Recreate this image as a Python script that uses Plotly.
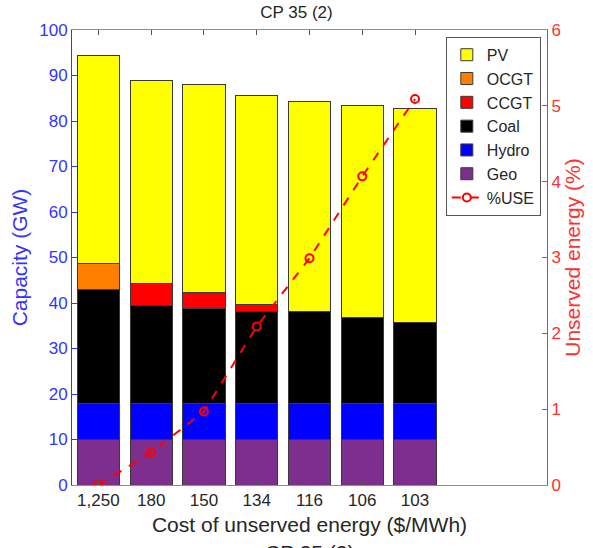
import plotly.graph_objects as go

# Cost of unserved energy scenarios ($/MWh)
categories = ["1,250", "180", "150", "134", "116", "106", "103"]
positions = [1, 2, 3, 4, 5, 6, 7]

# Installed capacity by technology (GW)
geo = [10, 10, 10, 10, 10, 10, 10]
hydro = [8, 8, 8, 8, 8, 8, 8]
coal = [24.9, 21.5, 20.8, 20.2, 20.2, 18.8, 17.8]
ccgt = [0, 4.8, 3.5, 1.4, 0, 0, 0]
ocgt = [5.7, 0, 0, 0, 0, 0, 0]
pv = [45.7, 44.7, 45.8, 46.1, 46.0, 46.7, 47.0]

# Share of unserved energy (%)
use_pct = [0.0, 0.43, 0.97, 2.09, 2.99, 4.07, 5.09]

BLUE = "#3434ff"
RED = "#ff3030"
GRAY = "#8c8c8c"
FONT = "Liberation Sans"

fig = go.Figure()

stack = [
    ("Geo", geo, "#7e2f8e", 6),
    ("Hydro", hydro, "#0000ff", 5),
    ("Coal", coal, "#000000", 4),
    ("CCGT", ccgt, "#ff0000", 3),
    ("OCGT", ocgt, "#ff8000", 2),
    ("PV", pv, "#ffff00", 1),
]
for name, vals, color, rank in stack:
    fig.add_trace(go.Bar(
        x=positions, y=vals, name=name, width=0.8,
        marker=dict(color=color, line=dict(color="#3a3a3a", width=1)),
        legendrank=rank,
    ))

fig.add_trace(go.Scatter(
    x=positions, y=use_pct, name="%USE", yaxis="y2", mode="lines+markers",
    line=dict(color="#ff0000", width=2, dash="dash"),
    marker=dict(symbol="circle-open", size=8, color="#ff0000", line=dict(width=2)),
    legendrank=7,
))

fig.update_layout(
    width=593, height=548,
    margin=dict(l=72, r=46, t=30, b=63),
    barmode="stack", bargap=0.2,
    plot_bgcolor="white", paper_bgcolor="white",
    font=dict(family=FONT, size=16, color="#262626"),
    title=dict(text="CP 35 (2)", x=0.5, xanchor="center", y=0.988, yanchor="top",
               font=dict(family=FONT, size=17, color="#262626")),
    xaxis=dict(
        range=[0.5, 9.5], tickvals=positions, ticktext=categories,
        ticks="inside", ticklen=5, tickcolor="#555555", mirror="ticks",
        showline=True, linecolor=GRAY, linewidth=1, showgrid=False, zeroline=False,
        tickfont=dict(size=17, color="#262626"),
        title=dict(text="Cost of unserved energy ($/MWh)", standoff=7,
                   font=dict(size=21, color="#262626")),
    ),
    yaxis=dict(
        range=[0, 100], dtick=10, ticks="inside", ticklen=5, tickcolor=BLUE,
        showline=True, linecolor=BLUE, linewidth=1, showgrid=False, zeroline=False,
        tickfont=dict(size=17, color=BLUE),
        title=dict(text="Capacity (GW)", standoff=5, font=dict(size=21, color=BLUE)),
    ),
    yaxis2=dict(
        range=[0, 6], dtick=1, overlaying="y", side="right",
        ticks="inside", ticklen=5, tickcolor=RED,
        showline=True, linecolor=RED, linewidth=1, showgrid=False, zeroline=False,
        tickfont=dict(size=17, color=RED),
        title=dict(text="Unserved energy (%)", standoff=5, font=dict(size=21, color=RED)),
    ),
    legend=dict(
        x=0.987, y=0.985, xanchor="right", yanchor="top", traceorder="normal",
        bgcolor="white", bordercolor="#555555", borderwidth=1,
        font=dict(size=16, color="#262626"), tracegroupgap=0,
        itemwidth=30,
    ),
    showlegend=True,
)

# Caption repeated beneath the axis title
fig.add_annotation(
    text="CP 35 (2)", xref="paper", yref="paper", x=0.5, y=0, yanchor="top",
    yshift=-54, showarrow=False, font=dict(family=FONT, size=21, color="#262626"),
)

fig.write_html("out.html")
